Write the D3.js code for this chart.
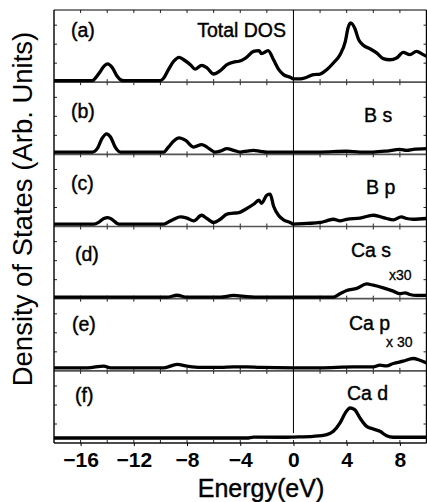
<!DOCTYPE html>
<html lang="en">
<head>
    <meta charset="UTF-8">
    <title>Density of States</title>
    <script src="https://cdn.jsdelivr.net/npm/d3@7/dist/d3.min.js"></script>
    <style>
        body { margin: 0; background: #fff; }
        text { font-family: "Liberation Sans", Arial, sans-serif; fill: #000; }
    </style>
</head>
<body>
<script>
    var width = 427
    var height = 502

    // energy (eV), DOS (arb. units)
    var totalDos = [[-18, 0], [-15.1, 0], [-15, 0.05], [-14.6, 0.4], [-14.25, 0.75], [-14, 0.88], [-13.6, 0.67],
        [-13.25, 0.23], [-13, 0.05], [-12.75, 0], [-10, 0], [-9.75, 0.14], [-9.4, 0.58], [-9, 1.02], [-8.6, 1.23],
        [-8.25, 1.1], [-7.75, 0.84], [-7.4, 0.61], [-6.9, 0.81], [-6.5, 0.67], [-6, 0.35], [-5.5, 0.53], [-5, 0.84],
        [-4.5, 0.98], [-4.1, 1.02], [-3.6, 1.19], [-3, 1.54], [-2.6, 1.58], [-2.4, 1.42], [-1.9, 1.58], [-1.5, 1.1],
        [-1.1, 0.58], [-0.75, 0.32], [-0.25, 0.18], [0, 0.09], [0.5, 0.09], [1, 0.18], [1.5, 0.32], [2, 0.35],
        [2.5, 0.58], [3, 0.93], [3.5, 1.37], [3.9, 2.07], [4.1, 2.77], [4.3, 3.04], [4.6, 2.77], [4.9, 2.16],
        [5.25, 1.86], [5.75, 1.68], [6.25, 1.46], [6.75, 1.16], [7.25, 1.1], [7.75, 1.19], [8.25, 1.49], [8.75, 1.37],
        [9.25, 1.54], [9.75, 1.37], [10, 1.28]];
    var bS = [[-18, 0], [-15.1, 0], [-14.75, 0.18], [-14.4, 0.7], [-14.05, 0.96], [-13.75, 0.79], [-13.4, 0.26],
        [-13, 0], [-9.75, 0], [-9.4, 0.26], [-9, 0.58], [-8.6, 0.75], [-8.1, 0.61], [-7.5, 0.26], [-6.9, 0.39],
        [-6.5, 0.26], [-5.9, 0], [-5.5, 0.05], [-5, 0.18], [-4.5, 0.09], [-4, 0], [-3.5, 0.05], [-3, 0.09],
        [-2.5, 0.04], [-2, 0], [0, 0], [2, 0], [4, 0.04], [5, 0], [6, 0], [7, 0.05], [8, 0.14], [8.5, 0.09],
        [9, 0.14], [10, 0.18]];
    var bP = [[-18, 0], [-15, 0], [-14.6, 0.12], [-14.25, 0.3], [-13.95, 0.35], [-13.6, 0.23], [-13.25, 0.04],
        [-13, 0], [-9.75, 0], [-9.4, 0.12], [-9, 0.26], [-8.5, 0.39], [-8, 0.32], [-7.5, 0.18], [-6.9, 0.47],
        [-6.5, 0.3], [-6, 0.09], [-5.5, 0.26], [-5, 0.53], [-4.5, 0.58], [-4.1, 0.61], [-3.6, 0.79], [-3, 1.05],
        [-2.6, 1.26], [-2.4, 1.1], [-2, 1.53], [-1.75, 1.58], [-1.5, 0.96], [-1.1, 0.44], [-0.75, 0.23],
        [-0.25, 0.09], [0, 0], [1, 0.04], [2, 0.09], [2.5, 0.18], [3, 0.26], [3.5, 0.18], [4, 0.26], [5, 0.32],
        [6, 0.47], [6.5, 0.4], [7, 0.3], [7.5, 0.23], [8.1, 0.39], [8.5, 0.3], [9, 0.26], [10, 0.3]];
    var caS = [[-18, 0], [-9.5, 0], [-8.75, 0.1], [-8, 0], [-5.5, 0], [-4.5, 0.09], [-3.5, 0.03], [-2.5, 0],
        [3, 0], [3.5, 0.18], [4, 0.35], [4.75, 0.46], [5.5, 0.7], [6, 0.63], [6.75, 0.49], [7.5, 0.32], [8, 0.18],
        [8.4, 0.23], [8.75, 0.14], [9.25, 0.09], [10, 0.09]];
    var caP = [[-18, 0], [-15.5, 0], [-14.25, 0.09], [-13.75, 0], [-9.75, 0], [-8.75, 0.18], [-8, 0.09],
        [-7, 0.02], [-5.5, 0.02], [-4.5, 0.05], [-3.5, 0.05], [-2.5, 0.02], [0, 0], [2, 0], [4.5, 0.05], [6, 0.05],
        [6.5, 0.14], [7, 0.1], [7.5, 0.23], [8.25, 0.35], [9, 0.49], [9.5, 0.4], [10, 0.26]];
    var caD = [[-18, 0], [-3.5, 0], [-3, 0.05], [-0.5, 0.04], [0, 0.05], [1.5, 0.09], [2.5, 0.18], [3, 0.35],
        [3.5, 0.79], [3.9, 1.32], [4.25, 1.58], [4.6, 1.49], [5, 1.05], [5.5, 0.61], [6, 0.47], [6.5, 0.35],
        [7, 0.12], [7.5, 0.04], [8.5, 0.04], [10, 0.04]];

    var panelSeries = [totalDos, bS, bP, caS, caP, caD];
    var panelLetters = ['(a)', '(b)', '(c)', '(d)', '(e)', '(f)'];
    var panelNames = ['Total DOS', 'B s', 'B p', 'Ca s', 'Ca p', 'Ca d'];
    var panelFactors = ['', '', '', 'x30', 'x 30', ''];
    var xTickLabels = [-16, -12, -8, -4, 0, 4, 8];
    var xMinorTicks = d3.range(-16, 10, 2);
    var yTickValues = [1, 2, 3];

    // layout of the text in each panel (offsets from the panel top)
    var textLayout = [
        {lx: 71, ly: 27, nx: 286, ny: 27, anchor: 'end'},
        {lx: 71, ly: 36, nx: 364, ny: 40, anchor: 'start'},
        {lx: 71, ly: 36, nx: 366, ny: 40, anchor: 'start'},
        {lx: 75, ly: 34, nx: 351, ny: 30, anchor: 'start', fx: 389, fy: 53},
        {lx: 72, ly: 32, nx: 349, ny: 31, anchor: 'start', fx: 386, fy: 48},
        {lx: 75, ly: 31, nx: 347, ny: 29, anchor: 'start'}
    ];
    var baseLift = [1.5, 2.3, 2.3, 1.5, 3, 5];

    // plot box (note: "top" is taken by window.top)
    var plotL = 54, plotR = 426.5, plotT = 10, plotB = 443;
    var panelH = (plotB - plotT) / panelSeries.length;

    var svg = d3.select('body')
        .append('svg')
        .attr('width', width)
        .attr('height', height);

    var x = d3.scaleLinear().domain([-18, 10]).range([plotL, plotR]);

    panelSeries.forEach(function (series, i) {
        var y0 = plotT + i * panelH;
        var y1 = y0 + panelH;
        var y = d3.scaleLinear().domain([0, panelH / 19]).range([y1, y0]);
        var g = svg.append('g');

        // inward x ticks, top and bottom of each panel
        g.selectAll('.tt').data(xMinorTicks).enter().append('line')
            .attr('x1', d => x(d)).attr('x2', d => x(d))
            .attr('y1', y0).attr('y2', y0 + 3)
            .attr('stroke', '#222').attr('stroke-width', 1);
        g.selectAll('.tb').data(xMinorTicks).enter().append('line')
            .attr('x1', d => x(d)).attr('x2', d => x(d))
            .attr('y1', y1).attr('y2', y1 - 3)
            .attr('stroke', '#222').attr('stroke-width', 1);

        // inward y ticks, left and right
        g.selectAll('.yl').data(yTickValues).enter().append('line')
            .attr('x1', plotL).attr('x2', plotL + 3)
            .attr('y1', d => y(d)).attr('y2', d => y(d))
            .attr('stroke', '#222').attr('stroke-width', 1);
        g.selectAll('.yr').data(yTickValues).enter().append('line')
            .attr('x1', plotR).attr('x2', plotR - 3)
            .attr('y1', d => y(d)).attr('y2', d => y(d))
            .attr('stroke', '#222').attr('stroke-width', 1);

        // panel bottom line (gray baseline)
        g.append('line')
            .attr('x1', plotL).attr('x2', plotR)
            .attr('y1', y1).attr('y2', y1)
            .attr('stroke', i === panelSeries.length - 1 ? '#111' : '#555')
            .attr('stroke-width', 1.6);

        var line = d3.line()
            .x(d => x(d[0]))
            .y(d => y(d[1]) - baseLift[i])
            .curve(d3.curveMonotoneX);

        g.append('path')
            .datum(series)
            .attr('d', line)
            .attr('fill', 'none')
            .attr('stroke', '#000')
            .attr('stroke-width', 3.3)
            .attr('stroke-linejoin', 'round');

        var t = textLayout[i];
        g.append('text')
            .attr('x', t.lx).attr('y', y0 + t.ly)
            .style('font-size', '19.5px')
            .style('stroke', '#000').style('stroke-width', 0.4)
            .text(panelLetters[i]);
        g.append('text')
            .attr('x', t.nx).attr('y', y0 + t.ny)
            .attr('text-anchor', t.anchor)
            .style('font-size', '19.5px')
            .style('stroke', '#000').style('stroke-width', 0.4)
            .text(panelNames[i]);
        if (panelFactors[i]) {
            g.append('text')
                .attr('x', t.fx).attr('y', y0 + t.fy)
                .style('font-size', '14px')
                .style('stroke', '#000').style('stroke-width', 0.3)
                .text(panelFactors[i]);
        }
    });

    // frame
    svg.append('line').attr('x1', plotL).attr('x2', plotR).attr('y1', plotT).attr('y2', plotT)
        .attr('stroke', '#000').attr('stroke-width', 1.2);
    svg.append('line').attr('x1', plotL).attr('x2', plotL).attr('y1', plotT).attr('y2', plotB)
        .attr('stroke', '#000').attr('stroke-width', 1.4);
    svg.append('line').attr('x1', plotR).attr('x2', plotR).attr('y1', plotT).attr('y2', plotB)
        .attr('stroke', '#000').attr('stroke-width', 1.4);

    // Fermi level
    svg.append('line')
        .attr('x1', x(0)).attr('x2', x(0))
        .attr('y1', plotT).attr('y2', plotB - 10)
        .attr('stroke', '#000').attr('stroke-width', 1);

    // bottom axis
    var xAxis = d3.axisBottom(x)
        .tickValues(xTickLabels)
        .tickSize(3)
        .tickPadding(6)
        .tickFormat(d => d < 0 ? '\u2212' + Math.abs(d) : d);
    var ax = svg.append('g')
        .attr('transform', 'translate(0,' + plotB + ')')
        .call(xAxis);
    ax.select('.domain').remove();
    ax.selectAll('text')
        .style('font-family', '"Liberation Sans", Arial, sans-serif')
        .style('font-size', '21px')
        .style('font-weight', 'bold');

    svg.append('text')
        .attr('x', (195 + 327) / 2)
        .attr('y', 497)
        .attr('text-anchor', 'middle')
        .style('font-size', '25px')
        .style('stroke', '#000').style('stroke-width', 0.4)
        .text('Energy(eV)');

    svg.append('text')
        .attr('transform', 'translate(32,209) rotate(-90)')
        .attr('text-anchor', 'middle')
        .style('font-size', '27.5px')
        .text('Density of States (Arb. Units)');
</script>
</body>
</html>
